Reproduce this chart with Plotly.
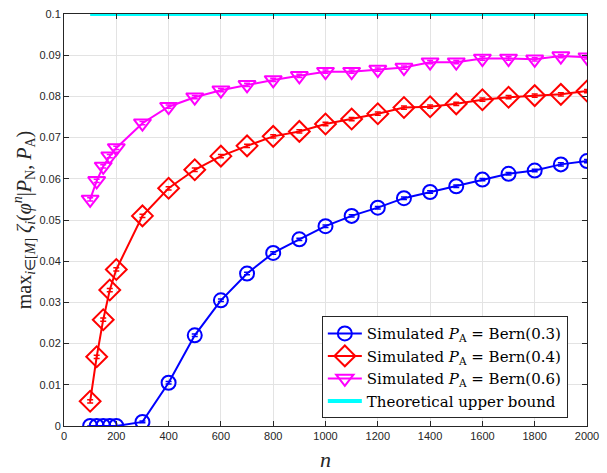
import plotly.graph_objects as go

n_vals = [100, 125, 150, 175, 200, 300, 400, 500, 600, 700, 800, 900, 1000,
          1100, 1200, 1300, 1400, 1500, 1600, 1700, 1800, 1900, 2000]
bern03 = [0, 0, 0, 0, 0, 0.001, 0.0105, 0.022, 0.0305, 0.037, 0.042, 0.0453, 0.0485,
          0.051, 0.053, 0.0553, 0.0568, 0.0582, 0.0598, 0.0612, 0.062, 0.0635, 0.0643]
bern04 = [0.006, 0.0168, 0.0258, 0.033, 0.038, 0.051, 0.0577, 0.0622, 0.0655, 0.068, 0.0703,
          0.0715, 0.0733, 0.0745, 0.0758, 0.0773, 0.0775, 0.0782, 0.0792, 0.0798, 0.0802,
          0.0805, 0.0813]
bern06 = [0.055, 0.0595, 0.063, 0.0655, 0.0675, 0.0735, 0.0775, 0.0798, 0.0815, 0.0828,
          0.084, 0.085, 0.086, 0.086, 0.0865, 0.087, 0.0883, 0.0883, 0.0892, 0.0892, 0.089,
          0.0898, 0.0895]
err03 = [0, 0, 0, 0, 0, 0.0002, 0.0003, 0.0003, 0.0003, 0.0003, 0.0003, 0.0003, 0.0003,
         0.0003, 0.0003, 0.0003, 0.0003, 0.0003, 0.0003, 0.0003, 0.0003, 0.0004, 0.0004]
err04 = [0.0004] * len(n_vals)
err06 = [0.0004] * len(n_vals)
bound_x = [100, 2000]
bound_y = [0.1, 0.1]

serif = "DejaVu Serif, Liberation Serif, serif"
serif2 = "Liberation Serif, Times New Roman, serif"
sans = "Liberation Sans, Arial, sans-serif"

fig = go.Figure()

def add_series(y, e, color, symbol, name, size):
    fig.add_trace(go.Scatter(
        x=n_vals, y=y, mode="lines+markers", name=name,
        line=dict(color=color, width=2),
        marker=dict(symbol=symbol, size=size, color=color,
                    line=dict(color=color, width=2)),
        error_y=dict(type="data", array=e, visible=True, color=color,
                     thickness=1.5, width=3),
    ))

add_series(bern03, err03, "#0000ff", "circle-open", "Simulated <i>P</i><sub>A</sub> = Bern(0.3)", 14)
add_series(bern04, err04, "#ff0000", "diamond-open", "Simulated <i>P</i><sub>A</sub> = Bern(0.4)", 16)
add_series(bern06, err06, "#ff00ff", "triangle-down-open", "Simulated <i>P</i><sub>A</sub> = Bern(0.6)", 15)

fig.add_trace(go.Scatter(
    x=bound_x, y=bound_y, mode="lines", name="Theoretical upper bound",
    line=dict(color="#00ffff", width=4), cliponaxis=False,
))

axis_common = dict(
    showline=True, linecolor="#262626", linewidth=1, mirror="ticks",
    ticks="inside", ticklen=5, tickcolor="#262626",
    showgrid=True, gridcolor="#e3e3e3", gridwidth=1,
    zeroline=False, tickfont=dict(family=sans, size=11, color="#262626"),
    ticklabeloverflow="allow",
)

fig.update_layout(
    width=607, height=473,
    margin=dict(l=64, r=12, t=8, b=47),
    plot_bgcolor="white", paper_bgcolor="white",
    xaxis=dict(range=[0, 2000], dtick=200, tick0=0, **axis_common),
    yaxis=dict(range=[0, 0.1], dtick=0.01, tick0=0,
               title=dict(text="max<sub><i>i</i>∈[<i>M</i>]</sub> <i>ζ<sub>i</sub></i>(<i>φ</i><sup><i>n</i></sup>|<i>P</i><sub>N</sub>, <i>P</i><sub>A</sub>)",
                          font=dict(family=serif2, size=20, color="#262626"), standoff=2),
               **axis_common),
    legend=dict(x=0.493, y=0.019, xanchor="left", yanchor="bottom",
                bgcolor="white", bordercolor="#262626", borderwidth=1,
                font=dict(family=serif, size=15, color="#000000"),
                tracegroupgap=0, itemwidth=34),
    showlegend=True,
)

fig.add_annotation(text="<i>n</i>", xref="paper", yref="paper", x=0.5, y=-0.082,
                   xanchor="center", yanchor="middle", showarrow=False,
                   font=dict(family=serif2, size=22, color="#262626"))

fig.write_html("out.html", config={"displayModeBar": False},
               post_script="document.body.style.margin='0';document.body.style.overflow='hidden';")
